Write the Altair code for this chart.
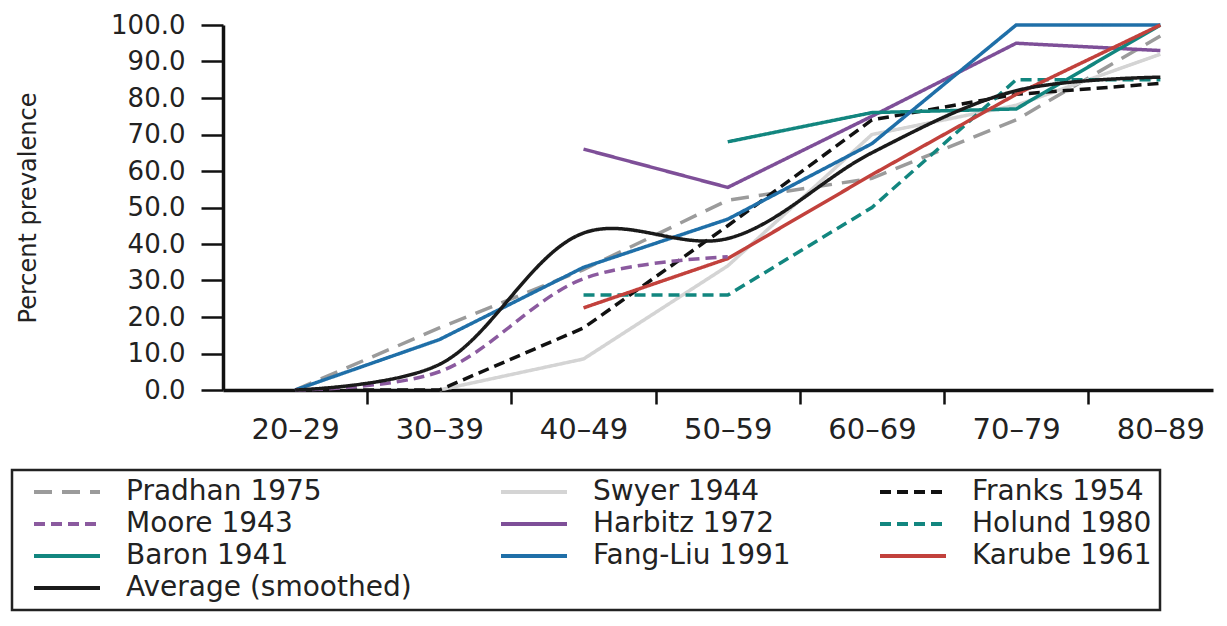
import altair as alt
import pandas as pd

ages = ["20–29", "30–39", "40–49", "50–59", "60–69", "70–79", "80–89"]

series_names = ["Pradhan 1975", "Swyer 1944", "Franks 1954",
                "Moore 1943", "Harbitz 1972", "Holund 1980",
                "Baron 1941", "Fang-Liu 1991", "Karube 1961",
                "Average (smoothed)"]

pradhan = [0, 17, 33, 52, 58, 74, 97]
swyer = [None, 0, 8.5, 34, 70, 78, 92]
franks = [0, 0, 17, 45, 74, 81, 84]
moore = [0, 5, 30.5, 36.5, None, None, None]
harbitz = [None, None, 66, 55.5, 75, 95, 93]
holund = [None, None, 26, 26, 50, 85, 85]
baron = [None, None, None, 68, 76, 77, 100]
fang_liu = [0, 13.8, 33.6, 46.8, 67.5, 100, 100]
karube = [None, None, 22.5, 36, 59, 81, 100]
average = [0, 7, 43, 41.5, 65, 82, 85.7]

colors = ["#9b9b9b", "#d4d4d4", "#111111",
          "#8b5a9f", "#7e4f98", "#12867f",
          "#12867f", "#1f6fa8", "#c2413c",
          "#1a1a1a"]
dashes = [[18, 10], [1, 0], [11, 6],
          [11, 6], [1, 0], [11, 6],
          [1, 0], [1, 0], [1, 0],
          [1, 0]]

# series drawn with a smoothed (spline) curve
smooth_series = ["Moore 1943", "Average (smoothed)"]

all_values = [pradhan, swyer, franks, moore, harbitz, holund,
              baron, fang_liu, karube, average]

rows = []
for name, vals in zip(series_names, all_values):
    for i, v in enumerate(vals):
        if v is not None:
            rows.append({"series": name, "age": ages[i], "idx": i, "value": v,
                         "smooth": name in smooth_series})
df = pd.DataFrame(rows)

FONT = "DejaVu Sans"

label_list = "[" + ",".join("'" + a + "'" for a in ages) + "]"
x_values = [i / 2 for i in range(2 * len(ages) - 1)]

legend = alt.Legend(
    title=None, orient="none", legendX=-211, legendY=445,
    columns=3, direction="horizontal",
    labelFontSize=28, labelFont=FONT, labelColor="#222222",
    labelLimit=800, symbolType="M0,0H6", symbolSize=484,
    symbolStrokeWidth=4, labelOffset=78, columnPadding=75, rowPadding=4,
    padding=8, strokeColor="#222222", fillColor="white",
)

x_enc = alt.X(
    "idx:Q",
    scale=alt.Scale(domain=[-0.5, 6.365], nice=False, zero=False),
    axis=alt.Axis(
        title=None, values=x_values,
        labelExpr="datum.value % 1 === 0 ? " + label_list + "[datum.value] : ''",
        tickOpacity={"condition": {"test": "datum.value % 1 === 0", "value": 0}, "value": 1},
        labelOverlap=False, labelFlush=False, grid=False,
        tickSize=14, tickWidth=2.5, tickColor="#111111",
        domainColor="#111111", domainWidth=3.5,
        labelFont=FONT, labelFontSize=29, labelColor="#222222", labelPadding=11,
    ),
)
y_enc = alt.Y(
    "value:Q",
    scale=alt.Scale(domain=[0, 100], nice=False),
    axis=alt.Axis(
        title="Percent prevalence", values=list(range(0, 101, 10)), format=".1f",
        grid=False, tickSize=22, tickWidth=2.5, tickColor="#111111",
        domainColor="#111111", domainWidth=3.5,
        labelFont=FONT, labelFontSize=26, labelColor="#222222", labelPadding=16,
        titleFont=FONT, titleFontSize=24, titleFontWeight="normal",
        titleColor="#222222", titlePadding=70,
    ),
)

base = alt.Chart(df).encode(
    x=x_enc,
    y=y_enc,
    color=alt.Color("series:N", scale=alt.Scale(domain=series_names, range=colors), legend=legend),
    strokeDash=alt.StrokeDash("series:N", scale=alt.Scale(domain=series_names, range=dashes), legend=legend),
)

lines = base.transform_filter(alt.datum.smooth == False).mark_line(strokeWidth=3.5)
curves = base.transform_filter(alt.datum.smooth == True).mark_line(strokeWidth=3.5, interpolate="catmull-rom")

chart = alt.layer(lines, curves).properties(
    width=990, height=365,
    autosize=alt.AutoSizeParams(type="none"),
    padding={"left": 215, "top": 17, "right": 6, "bottom": 230},
).configure_view(strokeWidth=0).configure_legend(strokeWidth=2.5)

chart.save("out.html", embed_options={"renderer": "svg", "actions": False})
